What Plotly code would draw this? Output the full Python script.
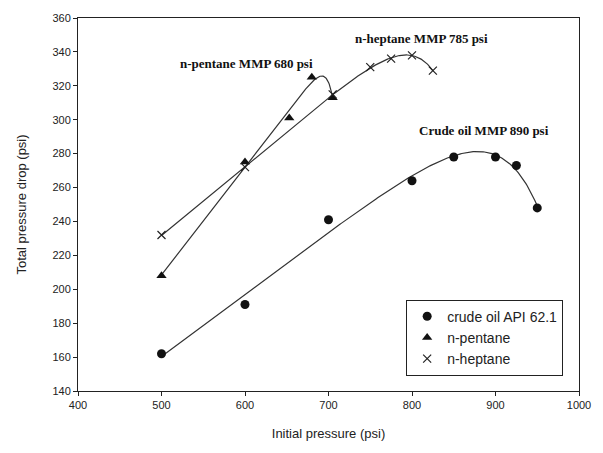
import numpy as np
import plotly.graph_objects as go

crude_x = [500, 600, 700, 800, 850, 900, 925, 950]
crude_y = [162, 191, 241, 264, 278, 278, 273, 248]
pent_x = [500, 600, 653, 680, 705]
pent_y = [208, 275, 301, 325, 313]
hept_x = [500, 600, 705, 750, 775, 800, 825]
hept_y = [232, 272, 315, 331, 336, 338, 329]

x_ticks = [400, 500, 600, 700, 800, 900, 1000]
y_ticks = list(range(140, 361, 20))


def fit(xs, ys):
    """Least-squares fit of y = a + b*x - c*exp((x-xmax)/d), scanning d."""
    xs = np.asarray(xs, float)
    ys = np.asarray(ys, float)
    best = None
    for d in np.linspace(8, 120, 400):
        A = np.column_stack([np.ones_like(xs), xs, -np.exp((xs - xs.max()) / d)])
        coef, *_ = np.linalg.lstsq(A, ys, rcond=None)
        if coef[2] <= 0:
            continue
        sse = np.sum((A @ coef - ys) ** 2)
        if best is None or sse < best[0]:
            best = (sse, d, coef)
    _, d, coef = best
    xx = np.linspace(xs.min(), xs.max(), 300)
    yy = coef[0] + coef[1] * xx - coef[2] * np.exp((xx - xs.max()) / d)
    return xx, yy


fig = go.Figure()
lc = "#333333"
for xs, ys in [(crude_x, crude_y), (pent_x, pent_y), (hept_x, hept_y)]:
    xx, yy = fit(xs, ys)
    fig.add_trace(go.Scatter(x=xx, y=yy, mode="lines", line=dict(color=lc, width=1.2),
                             showlegend=False, hoverinfo="skip"))

fig.add_trace(go.Scatter(x=crude_x, y=crude_y, mode="markers", name="crude oil API 62.1",
                         marker=dict(symbol="circle", size=9, color="#111111")))
fig.add_trace(go.Scatter(x=pent_x, y=pent_y, mode="markers", name="n-pentane",
                         marker=dict(symbol="triangle-up", size=9, color="#111111")))
fig.add_trace(go.Scatter(x=hept_x, y=hept_y, mode="markers", name="n-heptane",
                         marker=dict(symbol="x-thin", size=8, color="#111111",
                                     line=dict(width=1.2, color="#222222"))))

ann_font = dict(family="Liberation Serif, Times New Roman, serif", size=13, color="#111111")
for txt, ax, ay in [("n-pentane MMP 680 psi", 602, 333),
                    ("n-heptane MMP 785 psi", 811, 348),
                    ("Crude oil MMP 890 psi", 886, 293.5)]:
    fig.add_annotation(x=ax, y=ay, text="<b>" + txt + "</b>", showarrow=False, font=ann_font)

axis_common = dict(showline=True, linecolor="#222222", linewidth=1, mirror=True,
                   ticks="outside", ticklen=4, tickcolor="#222222", showgrid=False, zeroline=False,
                   tickfont=dict(family="Liberation Sans, Arial, sans-serif", size=11, color="#222222"))

fig.update_layout(
    width=603, height=453,
    margin=dict(l=78, r=13, t=17, b=62),
    paper_bgcolor="white", plot_bgcolor="white",
    font=dict(family="Liberation Sans, Arial, sans-serif", color="#222222"),
    xaxis=dict(range=[400, 1000], tickvals=x_ticks,
               title=dict(text="Initial pressure (psi)", font=dict(size=13), standoff=18),
               **axis_common),
    yaxis=dict(range=[140, 360], tickvals=y_ticks,
               title=dict(text="Total pressure drop (psi)", font=dict(size=13), standoff=22),
               **axis_common),
    legend=dict(x=0.655, y=0.245, xanchor="left", yanchor="top",
                bordercolor="#222222", borderwidth=1, bgcolor="white",
                font=dict(size=14, color="#222222"), itemwidth=30,
                tracegroupgap=0),
)

fig.write_html("out.html")
